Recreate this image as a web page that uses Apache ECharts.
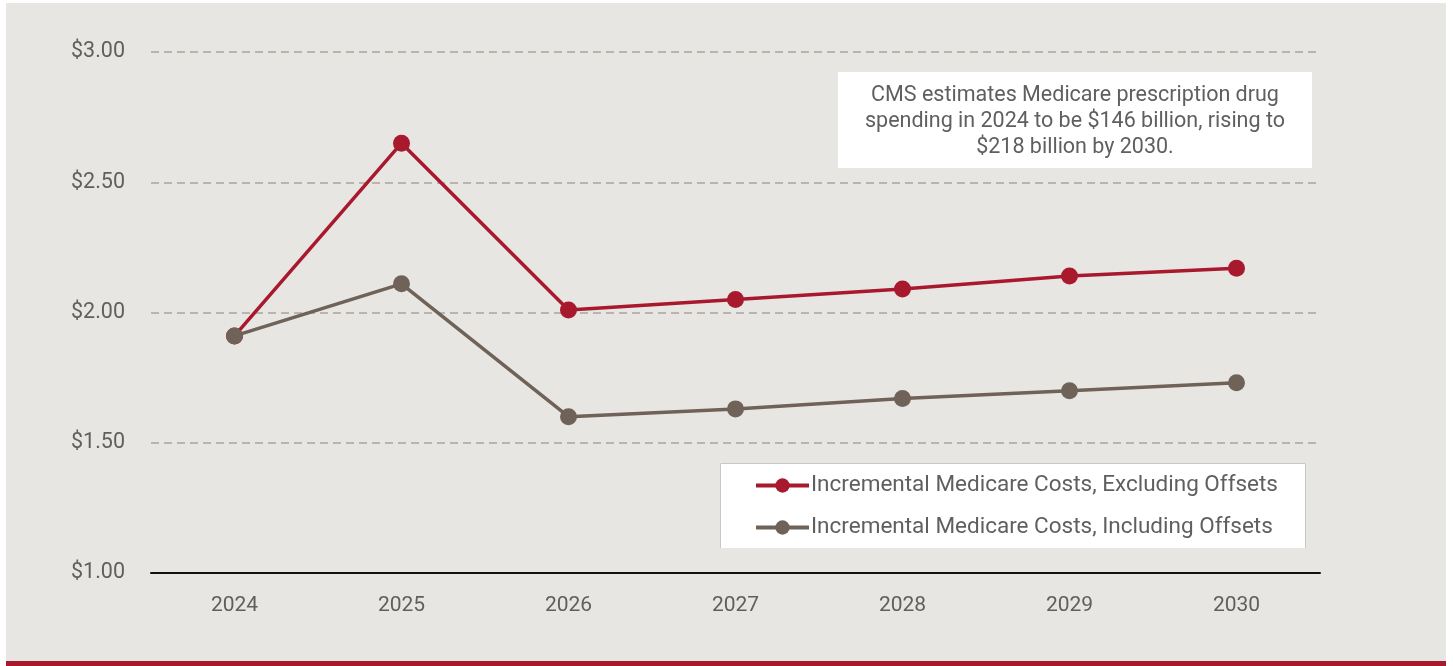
<!DOCTYPE html>
<html>
<head>
<meta charset="utf-8">
<script src="https://cdn.jsdelivr.net/npm/echarts@6/dist/echarts.min.js"></script>
<style>
html,body{margin:0;padding:0;background:#ffffff;}
#chart{width:1453px;height:666px;}
</style>
</head>
<body>
<div id="chart"></div>
<script>
const years = ['2024','2025','2026','2027','2028','2029','2030'];
const excludingOffsets = [1.91, 2.65, 2.01, 2.05, 2.09, 2.14, 2.17];
const includingOffsets = [1.91, 2.11, 1.60, 1.63, 1.67, 1.70, 1.73];
const seriesNames = ['Incremental Medicare Costs, Excluding Offsets', 'Incremental Medicare Costs, Including Offsets'];
const noteLines = ['CMS estimates Medicare prescription drug', 'spending in 2024 to be $146 billion, rising to', '$218 billion by 2030.'];

const FONT = 'Roboto, "Liberation Sans", sans-serif';
const TEXT = '#5f5f5f';
const RED = '#a8192e';
const GREY = '#6f6258';

const chart = echarts.init(document.getElementById('chart'));
chart.setOption({
  backgroundColor: '#ffffff',
  animation: false,
  textStyle: { fontFamily: FONT },
  graphic: [
    { type: 'rect', z: -10, silent: true, shape: { x: 6, y: 3, width: 1440, height: 658 }, style: { fill: '#e8e6e2' } },
    { type: 'rect', z: -10, silent: true, shape: { x: 6, y: 661, width: 1440, height: 5 }, style: { fill: '#a8192e' } },
    { type: 'rect', z: 1, silent: true, shape: { x: 838, y: 72, width: 474, height: 96 }, style: { fill: '#ffffff' } },
    { type: 'text', z: 2, silent: true, x: 1075, y: 83, style: { text: noteLines.join('\n'), align: 'center', verticalAlign: 'top', fill: TEXT, font: '21.5px ' + FONT, lineHeight: 26 } },
    { type: 'rect', z: 1, silent: true, shape: { x: 720, y: 463, width: 586, height: 85 }, style: { fill: '#ffffff' } },
    { type: 'polyline', z: 1, silent: true, shape: { points: [[720.5, 548], [720.5, 463.5], [1305.5, 463.5], [1305.5, 548]] }, style: { stroke: '#c8c8c8', lineWidth: 1, fill: null } }
  ],
  legend: {
    orient: 'vertical',
    left: 749,
    top: 469,
    itemWidth: 53,
    itemHeight: 18,
    itemGap: 19,
    lineStyle: { width: 4 },
    textStyle: { color: TEXT, fontSize: 22.5, fontFamily: FONT, padding: [0, 0, 0, -3] },
    data: seriesNames
  },
  grid: { left: 151, right: 133, top: 52, bottom: 93 },
  xAxis: {
    type: 'category',
    data: years,
    boundaryGap: true,
    axisLine: { lineStyle: { color: '#111111', width: 2 } },
    axisTick: { show: false },
    axisLabel: { color: TEXT, fontSize: 21, margin: 22, fontFamily: FONT }
  },
  yAxis: {
    type: 'value',
    min: 1, max: 3, interval: 0.5,
    axisLine: { show: false },
    axisTick: { show: false },
    axisLabel: { color: TEXT, fontSize: 21.5, margin: 26, fontFamily: FONT, formatter: v => '$' + v.toFixed(2) },
    splitLine: { lineStyle: { color: '#aaa39d', type: [8, 5], width: 1.5 } }
  },
  series: [
    {
      name: seriesNames[0], type: 'line', data: excludingOffsets, z: 3,
      symbol: 'circle', symbolSize: 17,
      lineStyle: { color: RED, width: 3.5 }, itemStyle: { color: RED }
    },
    {
      name: seriesNames[1], type: 'line', data: includingOffsets, z: 4,
      symbol: 'circle', symbolSize: 17,
      lineStyle: { color: GREY, width: 3.5 }, itemStyle: { color: GREY }
    }
  ]
});
</script>
</body>
</html>
